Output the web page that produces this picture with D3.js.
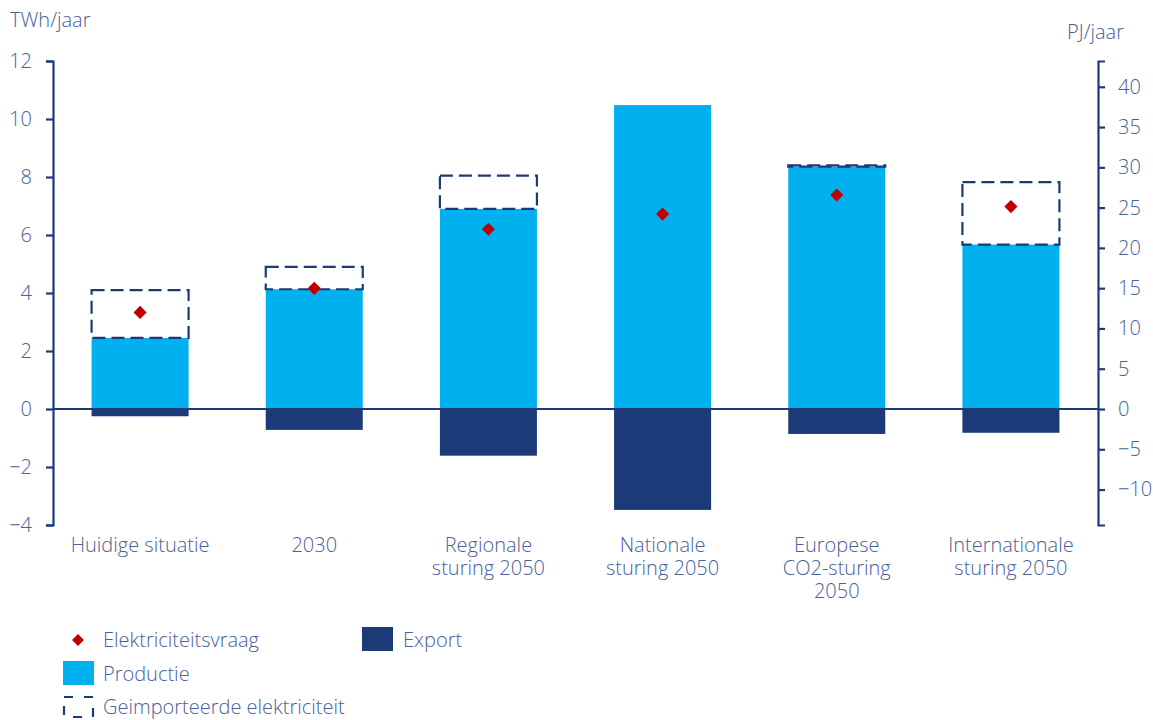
<!DOCTYPE html>
<html>
<head>
<meta charset="utf-8">
<script src="https://cdn.jsdelivr.net/npm/d3@7"></script>
<style>
  html, body { margin: 0; padding: 0; background: #fff; }
  svg text { font-family: "Open Sans", "Segoe UI", sans-serif; font-weight: 300; fill: #4a609a; }
</style>
</head>
<body>
<svg id="chart" width="1153" height="720"></svg>
<script>
// Scenario categories (label lines)
const categories = [
  ["Huidige situatie"],
  ["2030"],
  ["Regionale", "sturing 2050"],
  ["Nationale", "sturing 2050"],
  ["Europese", "CO2-sturing", "2050"],
  ["Internationale", "sturing 2050"]
];
// TWh/jaar
const productie = [2.45, 4.13, 6.9, 10.48, 8.36, 5.67];
const geimporteerd = [1.65, 0.77, 1.15, 0, 0.04, 2.15];
const exportValues = [-0.25, -0.72, -1.61, -3.48, -0.86, -0.82];
const vraag = [3.33, 4.16, 6.2, 6.72, 7.38, 6.98];

const leftTicks = [-4, -2, 0, 2, 4, 6, 8, 10, 12];
const rightTicks = [-10, -5, 0, 5, 10, 15, 20, 25, 30, 35, 40];
const pjPerTwh = 3.6;

const svg = d3.select("#chart");
const plotLeft = 53, plotRight = 1098, plotTop = 61, plotBottom = 525;

const idx = categories.map((c, i) => i);
const x = d3.scaleBand().domain(idx).range([plotLeft, plotRight]).paddingInner(0.443).paddingOuter(0.2215);
const y = d3.scaleLinear().domain([-4, 12]).range([plotBottom, plotTop]);
const yPJ = d3.scaleLinear().domain([-4 * pjPerTwh, 12 * pjPerTwh]).range([plotBottom, plotTop]);

const navy = "#1d3a78";
const light = "#00b0ef";
const red = "#c00000";
const fs = "20px";

// Production bars
svg.append("g").selectAll("rect").data(productie).join("rect")
  .attr("x", (d, i) => x(i)).attr("width", x.bandwidth())
  .attr("y", d => y(d)).attr("height", d => y(0) - y(d))
  .attr("fill", light);

// Export bars
svg.append("g").selectAll("rect").data(exportValues).join("rect")
  .attr("x", (d, i) => x(i)).attr("width", x.bandwidth())
  .attr("y", y(0)).attr("height", d => y(d) - y(0))
  .attr("fill", navy);

// Imported electricity: dashed outline stacked on production
const imports = geimporteerd.map((v, i) => ({ i, v, base: productie[i] })).filter(d => d.v > 0);
svg.append("g").selectAll("rect").data(imports).join("rect")
  .attr("x", d => x(d.i)).attr("width", x.bandwidth())
  .attr("y", d => y(d.base + d.v)).attr("height", d => y(d.base) - y(d.base + d.v))
  .attr("fill", "none").attr("stroke", navy).attr("stroke-width", 2.2)
  .attr("stroke-dasharray", "13,6");

// Axes
const yAxisL = d3.axisLeft(y).tickValues(leftTicks).tickSize(7).tickPadding(14);
const gL = svg.append("g").attr("transform", `translate(${plotLeft},0)`).call(yAxisL);
const yAxisR = d3.axisRight(yPJ).tickValues(rightTicks).tickSize(7).tickPadding(13);
const gR = svg.append("g").attr("transform", `translate(${plotRight},0)`).call(yAxisR);
[gL, gR].forEach(g => {
  g.select(".domain").attr("stroke", navy).attr("stroke-width", 2.2);
  g.selectAll(".tick line").attr("stroke", navy).attr("stroke-width", 2.2);
  g.selectAll(".tick text").style("font-size", fs).attr("fill", "#4a609a");
});

// Zero line
svg.append("line").attr("x1", plotLeft).attr("x2", plotRight).attr("y1", y(0)).attr("y2", y(0))
  .attr("stroke", navy).attr("stroke-width", 2);

// Demand markers
const diamond = d3.symbol().type(d3.symbolDiamond2).size(110);
svg.append("g").selectAll("path").data(vraag).join("path")
  .attr("d", diamond)
  .attr("transform", (d, i) => `translate(${x(i) + x.bandwidth() / 2},${y(d)})`)
  .attr("fill", red);

// Category labels, one text element per line
const cat = svg.append("g").style("font-size", fs);
categories.forEach((lines, i) => {
  const cx = x(i) + x.bandwidth() / 2;
  lines.forEach((l, j) => cat.append("text").attr("text-anchor", "middle")
    .attr("x", cx).attr("y", 552 + j * 23).text(l));
});

// Units
svg.append("text").attr("x", 10).attr("y", 27).style("font-size", fs).text("TWh/jaar");
svg.append("text").attr("x", 1067).attr("y", 39).style("font-size", fs).text("PJ/jaar");

// Legend
const lg = svg.append("g").style("font-size", fs);
lg.append("path").attr("d", d3.symbol().type(d3.symbolDiamond2).size(90))
  .attr("transform", "translate(78,640)").attr("fill", red);
lg.append("text").attr("x", 103).attr("y", 647).text("Elektriciteitsvraag");
lg.append("rect").attr("x", 362).attr("y", 627).attr("width", 31).attr("height", 24).attr("fill", navy);
lg.append("text").attr("x", 403).attr("y", 647).text("Export");
lg.append("rect").attr("x", 63).attr("y", 661).attr("width", 31).attr("height", 24).attr("fill", light);
lg.append("text").attr("x", 103).attr("y", 681).text("Productie");
lg.append("rect").attr("x", 64).attr("y", 697).attr("width", 29).attr("height", 20)
  .attr("fill", "none").attr("stroke", navy).attr("stroke-width", 2.2).attr("stroke-dasharray", "9,11");
lg.append("text").attr("x", 103).attr("y", 714).text("Geimporteerde elektriciteit");
</script>
</body>
</html>
